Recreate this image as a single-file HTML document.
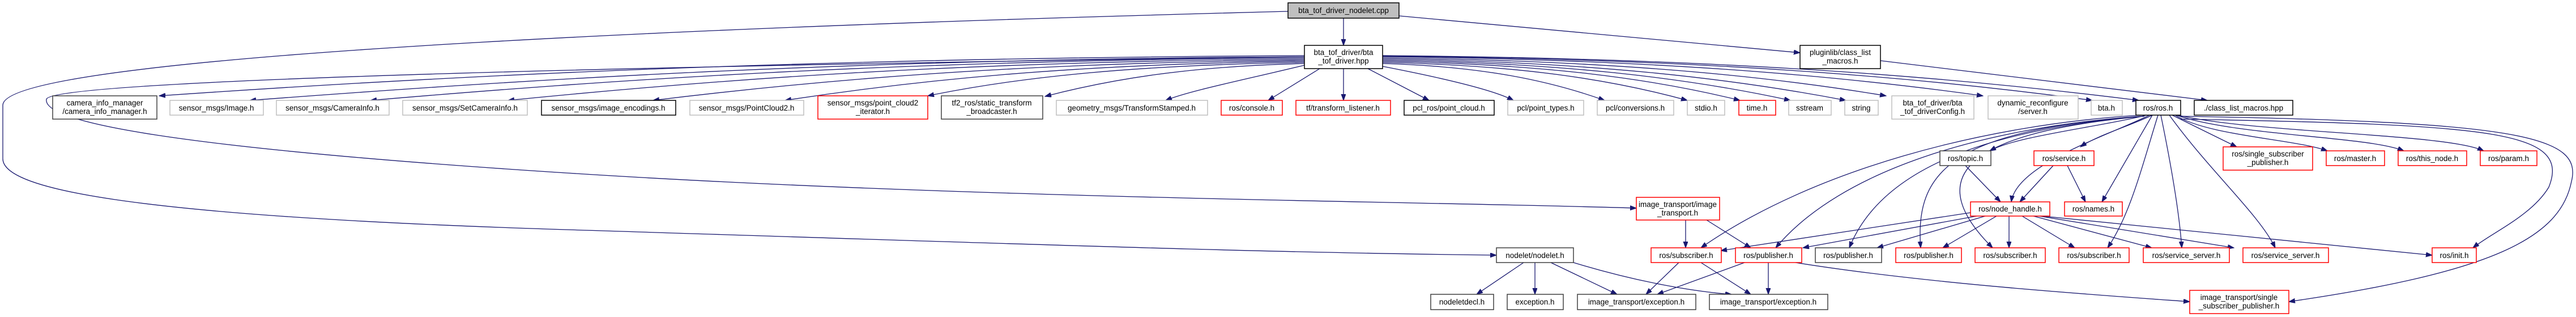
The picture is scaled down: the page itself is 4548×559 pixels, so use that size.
<!DOCTYPE html>
<html><head><meta charset="utf-8"><style>
html,body{margin:0;padding:0;background:#fff;}
svg{display:block;}
text{font-family:"Liberation Sans",sans-serif;font-size:13.5px;fill:#000;text-anchor:middle;}
.e{fill:none;stroke:#191970;stroke-width:1.3;marker-end:url(#a);}
.n{fill:#fff;stroke-width:1.5;}
.k{stroke:#000}.d{stroke:#404040}.g{stroke:#bfbfbf}.r{stroke:#ff0000}
</style></head><body>
<svg width="4548" height="559" viewBox="0 0 4548 559" xmlns="http://www.w3.org/2000/svg">
<defs><marker id="a" markerUnits="userSpaceOnUse" markerWidth="12" markerHeight="10" refX="11" refY="4" orient="auto"><path d="M0,0 L11,4 L0,8 z" fill="#191970" stroke="#191970"/></marker></defs>

<!-- edges -->
<path class="e" d="M2372,32 L2372,80"/>
<path class="e" d="M2470,28 L3178,93"/>
<path class="e" d="M3320,107 L3897,177"/>
<path class="e" d="M2274,20 C1500,40 10,90 5,185 L5,280 C5,330 200,380 1000,405 S2200,445 2642,450"/>
<path class="e" d="M2303,100 C1200,115 90,140 82,175 C75,215 300,260 1000,305 S2500,355 2889,367"/>

<path class="e" d="M2303,98 C1393,103 786,134 281,169"/>
<path class="e" d="M2303,100 C1465,105 906,142 441,177"/>
<path class="e" d="M2303,102 C1561,107 1066,142 654,177"/>
<path class="e" d="M2303,104 C1670,109 1248,142 897,177"/>
<path class="e" d="M2303,106 C1785,111 1440,142 1153,177"/>
<path class="e" d="M2303,108 C1890,113 1615,142 1386,177"/>
<path class="e" d="M2303,110 C2004,115 1804,135 1638,169"/>
<path class="e" d="M2303,112 C2097,117 1960,140 1845,170"/>
<path class="e" d="M2303,115 C2200,140 2100,160 2058,177"/>
<path class="e" d="M2330,121 L2239,177"/>
<path class="e" d="M2372,121 L2372,177"/>
<path class="e" d="M2415,121 L2523,177"/>
<path class="e" d="M2441,117 C2560,140 2640,160 2672,177"/>
<path class="e" d="M2441,112 C2617,117 2735,142 2833,177"/>
<path class="e" d="M2441,110 C2683,115 2844,140 2979,177"/>
<path class="e" d="M2441,108 C2725,113 2914,138 3072,177"/>
<path class="e" d="M2441,106 C2765,111 2981,138 3161,177"/>
<path class="e" d="M2441,104 C2809,109 3055,138 3259,177"/>
<path class="e" d="M2441,102 C2841,107 3108,132 3330,169"/>
<path class="e" d="M2441,100 C2918,105 3236,132 3501,169"/>
<path class="e" d="M2441,99 C3005,104 3381,135 3694,177"/>
<path class="e" d="M2441,98 C3042,103 3442,135 3776,177"/>

<path class="e" d="M3790,203 C3700,225 3560,240 3513,266"/>
<path class="e" d="M3800,203 C3760,222 3700,240 3673,259"/>
<path class="e" d="M3835,203 L3949,259"/>
<path class="e" d="M3840,203 C3900,240 4050,245 4109,266"/>
<path class="e" d="M3842,203 C3950,240 4180,240 4244,266"/>
<path class="e" d="M3845,203 C3980,235 4320,235 4385,266"/>
<path class="e" d="M3795,203 C3720,240 3560,290 3551,356"/>
<path class="e" d="M3470,292 L3532,356"/>
<path class="e" d="M3625,292 L3566,356"/>
<path class="e" d="M3650,292 L3682,356"/>
<path class="e" d="M3800,203 L3711,356"/>
<path class="e" d="M3780,203 C3500,220 3200,300 3003,437"/>
<path class="e" d="M3780,205 C3500,225 3250,300 3135,437"/>
<path class="e" d="M3782,205 C3500,230 3320,300 3265,437"/>
<path class="e" d="M3784,205 C3450,230 3380,300 3391,437"/>
<path class="e" d="M3786,205 C3450,235 3400,320 3518,437"/>
<path class="e" d="M3810,203 C3780,300 3760,380 3721,437"/>
<path class="e" d="M3815,203 C3835,300 3848,380 3852,437"/>
<path class="e" d="M3830,203 C3900,300 3990,380 4017,437"/>
<path class="e" d="M3850,210 C4400,220 4540,230 4500,330 C4470,380 4400,410 4366,437"/>
<path class="e" d="M3850,205 C4450,215 4560,240 4540,320 C4520,420 4400,480 4041,532"/>

<path class="e" d="M3479,375 L3038,442"/>
<path class="e" d="M3490,381 L3183,437"/>
<path class="e" d="M3505,381 L3314,437"/>
<path class="e" d="M3525,381 L3430,437"/>
<path class="e" d="M3547,381 L3547,437"/>
<path class="e" d="M3570,381 L3663,437"/>
<path class="e" d="M3590,381 L3799,437"/>
<path class="e" d="M3600,381 L3944,437"/>
<path class="e" d="M3605,381 L4294,450"/>

<path class="e" d="M2976,388 L2976,437"/>
<path class="e" d="M3013,388 L3091,437"/>
<path class="e" d="M2964,463 L2906,519"/>
<path class="e" d="M3003,463 L3091,519"/>
<path class="e" d="M3080,463 L2926,519"/>
<path class="e" d="M3122,463 L3122,519"/>
<path class="e" d="M3170,463 C3400,500 3700,520 3866,532"/>
<path class="e" d="M2690,463 L2607,519"/>
<path class="e" d="M2710,463 L2710,519"/>
<path class="e" d="M2738,463 L2855,519"/>
<path class="e" d="M2778,463 C2900,500 3000,515 3057,519"/>

<!-- nodes -->
<rect class="n k" x="2274" y="5" width="196" height="27" style="fill:#bfbfbf"/><text x="2372" y="23">bta_tof_driver_nodelet.cpp</text>
<rect class="n k" x="2303" y="80" width="138" height="41"/><text x="2372" y="97">bta_tof_driver/bta</text><text x="2372" y="112">_tof_driver.hpp</text>
<rect class="n k" x="3178" y="80" width="142" height="41"/><text x="3249" y="97">pluginlib/class_list</text><text x="3249" y="112">_macros.h</text>

<rect class="n d" x="93" y="169" width="184" height="41"/><text x="185" y="186">camera_info_manager</text><text x="185" y="201">/camera_info_manager.h</text>
<rect class="n g" x="300" y="177" width="165" height="26"/><text x="382" y="195">sensor_msgs/Image.h</text>
<rect class="n g" x="488" y="177" width="199" height="26"/><text x="587" y="195">sensor_msgs/CameraInfo.h</text>
<rect class="n g" x="711" y="177" width="220" height="26"/><text x="821" y="195">sensor_msgs/SetCameraInfo.h</text>
<rect class="n k" x="956" y="177" width="237" height="26"/><text x="1074" y="195">sensor_msgs/image_encodings.h</text>
<rect class="n g" x="1218" y="177" width="201" height="26"/><text x="1318" y="195">sensor_msgs/PointCloud2.h</text>
<rect class="n r" x="1444" y="169" width="194" height="41"/><text x="1541" y="186">sensor_msgs/point_cloud2</text><text x="1541" y="201">_iterator.h</text>
<rect class="n d" x="1662" y="169" width="179" height="41"/><text x="1751" y="186">tf2_ros/static_transform</text><text x="1751" y="201">_broadcaster.h</text>
<rect class="n g" x="1865" y="177" width="267" height="26"/><text x="1998" y="195">geometry_msgs/TransformStamped.h</text>
<rect class="n r" x="2156" y="177" width="108" height="26"/><text x="2210" y="195">ros/console.h</text>
<rect class="n r" x="2288" y="177" width="167" height="26"/><text x="2371" y="195">tf/transform_listener.h</text>
<rect class="n k" x="2479" y="177" width="159" height="26"/><text x="2558" y="195">pcl_ros/point_cloud.h</text>
<rect class="n g" x="2662" y="177" width="134" height="26"/><text x="2729" y="195">pcl/point_types.h</text>
<rect class="n g" x="2820" y="177" width="135" height="26"/><text x="2887" y="195">pcl/conversions.h</text>
<rect class="n g" x="2979" y="177" width="66" height="26"/><text x="3012" y="195">stdio.h</text>
<rect class="n r" x="3070" y="177" width="65" height="26"/><text x="3102" y="195">time.h</text>
<rect class="n g" x="3158" y="177" width="75" height="26"/><text x="3195" y="195">sstream</text>
<rect class="n g" x="3257" y="177" width="59" height="26"/><text x="3286" y="195">string</text>
<rect class="n g" x="3340" y="169" width="145" height="41"/><text x="3412" y="186">bta_tof_driver/bta</text><text x="3412" y="201">_tof_driverConfig.h</text>
<rect class="n g" x="3510" y="169" width="159" height="41"/><text x="3589" y="186">dynamic_reconfigure</text><text x="3589" y="201">/server.h</text>
<rect class="n g" x="3692" y="177" width="55" height="26"/><text x="3719" y="195">bta.h</text>
<rect class="n k" x="3771" y="177" width="79" height="26"/><text x="3810" y="195">ros/ros.h</text>
<rect class="n k" x="3874" y="177" width="174" height="26"/><text x="3961" y="195">./class_list_macros.hpp</text>

<rect class="n d" x="3425" y="266" width="90" height="26"/><text x="3470" y="284">ros/topic.h</text>
<rect class="n r" x="3591" y="266" width="106" height="26"/><text x="3644" y="284">ros/service.h</text>
<rect class="n r" x="3925" y="259" width="158" height="41"/><text x="4004" y="276">ros/single_subscriber</text><text x="4004" y="291">_publisher.h</text>
<rect class="n r" x="4107" y="266" width="103" height="26"/><text x="4158" y="284">ros/master.h</text>
<rect class="n r" x="4234" y="266" width="121" height="26"/><text x="4294" y="284">ros/this_node.h</text>
<rect class="n r" x="4379" y="266" width="100" height="26"/><text x="4429" y="284">ros/param.h</text>

<rect class="n r" x="2889" y="348" width="147" height="40"/><text x="2962" y="365">image_transport/image</text><text x="2962" y="380">_transport.h</text>
<rect class="n r" x="3479" y="356" width="140" height="25"/><text x="3549" y="373">ros/node_handle.h</text>
<rect class="n r" x="3645" y="356" width="102" height="25"/><text x="3696" y="373">ros/names.h</text>

<rect class="n d" x="2642" y="437" width="136" height="26"/><text x="2710" y="455">nodelet/nodelet.h</text>
<rect class="n r" x="2915" y="437" width="124" height="26"/><text x="2977" y="455">ros/subscriber.h</text>
<rect class="n r" x="3064" y="437" width="117" height="26"/><text x="3122" y="455">ros/publisher.h</text>
<rect class="n d" x="3205" y="437" width="117" height="26"/><text x="3263" y="455">ros/publisher.h</text>
<rect class="n r" x="3347" y="437" width="116" height="26"/><text x="3405" y="455">ros/publisher.h</text>
<rect class="n r" x="3487" y="437" width="124" height="26"/><text x="3549" y="455">ros/subscriber.h</text>
<rect class="n r" x="3635" y="437" width="124" height="26"/><text x="3697" y="455">ros/subscriber.h</text>
<rect class="n r" x="3784" y="437" width="152" height="26"/><text x="3860" y="455">ros/service_server.h</text>
<rect class="n r" x="3960" y="437" width="151" height="26"/><text x="4035" y="455">ros/service_server.h</text>
<rect class="n r" x="4294" y="437" width="78" height="26"/><text x="4333" y="455">ros/init.h</text>

<rect class="n d" x="2526" y="519" width="111" height="27"/><text x="2581" y="537">nodeletdecl.h</text>
<rect class="n d" x="2661" y="519" width="99" height="27"/><text x="2710" y="537">exception.h</text>
<rect class="n d" x="2785" y="519" width="209" height="27"/><text x="2889" y="537">image_transport/exception.h</text>
<rect class="n d" x="3018" y="519" width="209" height="27"/><text x="3122" y="537">image_transport/exception.h</text>
<rect class="n r" x="3866" y="512" width="175" height="41"/><text x="3953" y="529">image_transport/single</text><text x="3953" y="544">_subscriber_publisher.h</text>
</svg>
</body></html>
